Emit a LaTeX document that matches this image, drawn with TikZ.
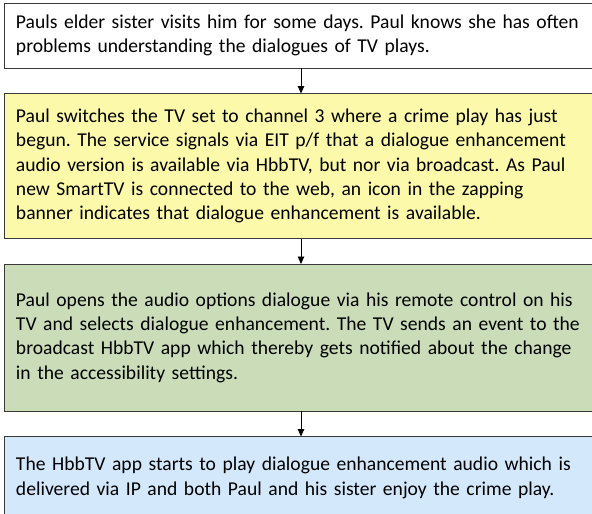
\documentclass[tikz,border=0pt]{standalone}
\usepackage{fontspec}
\setmainfont{Carlito}
\frenchspacing
\usetikzlibrary{positioning,arrows.meta}
\definecolor{boxline}{HTML}{3A3A3A}
\definecolor{stepyellow}{HTML}{FCF9AA}
\definecolor{stepgreen}{HTML}{CADDB8}
\definecolor{stepblue}{HTML}{D3E8FA}
\begin{document}
\begin{tikzpicture}[x=1pt,y=1pt,
    node distance=25.5pt,
    box/.style={draw=boxline, line width=0.8pt, rectangle, outer sep=0pt,
      inner sep=0pt, minimum width=594pt, text width=570pt, align=left,
      font=\fontsize{19.6}{24.3}\selectfont},
    flow/.style={-{Triangle[width=6.5pt,length=7.5pt]}, line width=0.9pt}]
  \clip (0,0) rectangle (592,-514);
  \node[box, anchor=north, minimum height=65pt] (visit) at (301,-3)
    {Pauls elder sister visits him for some days. Paul knows she has often\\
     problems understanding the dialogues of TV plays.};
  \node[box, fill=stepyellow, minimum height=145pt, below=of visit] (switch)
    {Paul switches the TV set to channel 3 where a crime play has just\\
     begun. The service signals via EIT p/f that a dialogue enhancement\\
     audio version is available via HbbTV, but nor via broadcast. As Paul\\
     new SmartTV is connected to the web, an icon in the zapping\\
     banner indicates that dialogue enhancement is available.};
  \node[box, fill=stepgreen, minimum height=147pt, below=of switch] (select)
    {Paul opens the audio options dialogue via his remote control on his\\
     TV and selects dialogue enhancement. The TV sends an event to the\\
     broadcast HbbTV app which thereby gets notified about the change\\
     in the accessibility settings.};
  \node[box, fill=stepblue, minimum height=83pt, below=of select] (play)
    {The HbbTV app starts to play dialogue enhancement audio which is\\
     delivered via IP and both Paul and his sister enjoy the crime play.};
  \draw[flow] (visit) -- (switch);
  \draw[flow] (switch) -- (select);
  \draw[flow] (select) -- (play);
\end{tikzpicture}
\end{document}
